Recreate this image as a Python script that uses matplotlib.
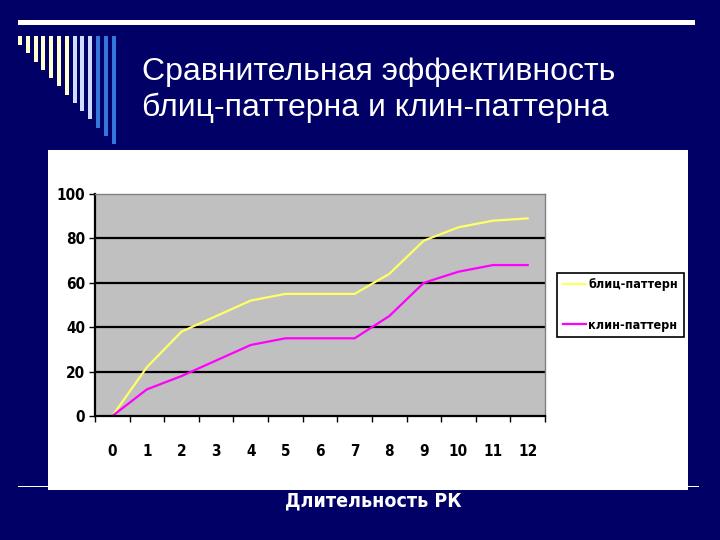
import matplotlib
matplotlib.use("Agg")
import matplotlib.pyplot as plt
from matplotlib.patches import Rectangle
from matplotlib import font_manager

# Data
durations = [0, 1, 2, 3, 4, 5, 6, 7, 8, 9, 10, 11, 12]
blitz = [0, 22, 38, 45, 52, 55, 55, 55, 64, 79, 85, 88, 89]
wedge = [0, 12, 18, 25, 32, 35, 35, 35, 45, 60, 65, 68, 68]
series_names = ["блиц-паттерн", "клин-паттерн"]
y_ticks = [0, 20, 40, 60, 80, 100]

title = "Сравнительная эффективность\nблиц-паттерна и клин-паттерна"
x_label = "Длительность РК"

navy = "#000066"

# narrow bold font for the chart texts
names = {f.name for f in font_manager.fontManager.ttflist}
cond = [f for f in font_manager.fontManager.ttflist
        if "Condensed" in f.fname and "Bold" in f.fname and "Oblique" not in f.fname]
if "Liberation Sans Narrow" in names:
    narrow = font_manager.FontProperties(family="Liberation Sans Narrow", weight="bold")
elif cond:
    narrow = font_manager.FontProperties(fname=cond[0].fname)
else:
    narrow = font_manager.FontProperties(family="Liberation Sans", weight="bold")

W, H = 720, 540
fig = plt.figure(figsize=(7.2, 5.4), dpi=100, facecolor=navy)

# decoration layer in pixel coordinates
deco = fig.add_axes([0, 0, 1, 1])
deco.set_xlim(0, W)
deco.set_ylim(H, 0)
deco.axis("off")

# top white rule
deco.add_patch(Rectangle((18, 20), 677, 5, color="white", lw=0))
# bottom thin rule (mostly hidden by panel)
deco.add_patch(Rectangle((18, 485.5), 681, 1.5, color="white", lw=0))

# stepped vertical bars in the corner
bar_colors = ["#ffffcc"] * 7 + ["#ccddff"] * 3 + ["#3377dd"] * 3
for i, c in enumerate(bar_colors):
    x = 18 + i * 7.8
    bottom = 45 + i * 8.25
    deco.add_patch(Rectangle((x, 36), 4, bottom - 36, color=c, lw=0))

# title
deco.text(142, 90, title, color="white", fontsize=23,
          family="Liberation Sans", ha="left", va="center",
          linespacing=1.25)

# white chart panel
deco.add_patch(Rectangle((48, 150), 640, 340, color="white", lw=0))

# x label below panel
p = narrow.copy()
p.set_size(14)
deco.text(373, 501, x_label, color="white", fontproperties=p,
          ha="center", va="center")

# chart axes
left, right, top, bottom = 95, 545, 194, 416
ax = fig.add_axes([left / W, (H - bottom) / H, (right - left) / W, (bottom - top) / H])
ax.set_facecolor("#c0c0c0")

ax.plot(durations, blitz, color="#ffff66", lw=1.6, label=series_names[0])
ax.plot(durations, wedge, color="#ff00ff", lw=1.6, label=series_names[1])

ax.set_xlim(-0.5, len(durations) - 0.5)
ax.set_ylim(0, 100)
ax.set_yticks(y_ticks)
for v in y_ticks[1:-1]:
    ax.axhline(v, color="black", lw=1.6, zorder=1)

ax.set_xticks(durations)
ax.set_xticklabels([str(d) for d in durations])
ax.set_xticks([d - 0.5 for d in durations] + [durations[-1] + 0.5], minor=True)
ax.tick_params(axis="x", which="major", length=0, pad=20)
ax.tick_params(axis="x", which="minor", length=4, width=1, direction="out")
ax.tick_params(axis="y", length=4, width=1, direction="out", pad=3)

tp = narrow.copy()
tp.set_size(11)
for lab in ax.get_xticklabels() + ax.get_yticklabels():
    lab.set_fontproperties(tp)
    lab.set_color("black")

for side in ["top", "right"]:
    ax.spines[side].set_color("#808080")
    ax.spines[side].set_linewidth(1)
for side in ["left", "bottom"]:
    ax.spines[side].set_color("black")
    ax.spines[side].set_linewidth(1.6)

lp = narrow.copy()
lp.set_size(9)
leg = fig.legend(loc="center left", bbox_to_anchor=(557 / W, (H - 305) / H),
                 frameon=True, fancybox=False, edgecolor="black",
                 facecolor="white", framealpha=1, handlelength=1.9,
                 handletextpad=0.15, labelspacing=2.2, borderpad=0.45,
                 borderaxespad=0, prop=lp)
leg.get_frame().set_linewidth(1.2)

fig.savefig("out.png", dpi=100, facecolor=navy)
